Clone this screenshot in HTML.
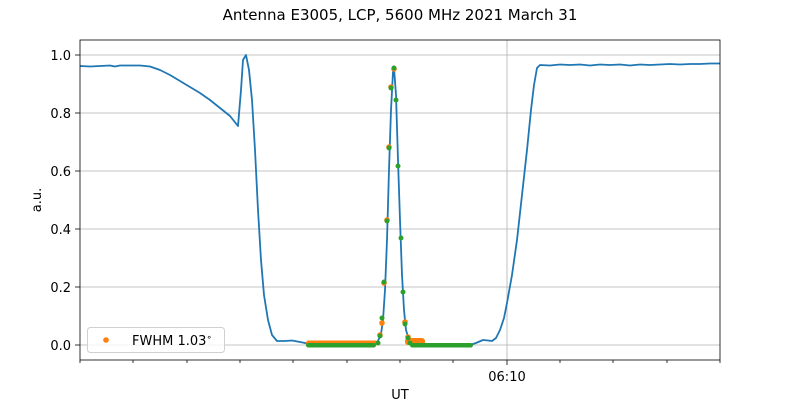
<!DOCTYPE html>
<html><head><style>
body{margin:0;background:#fff;font-family:"Liberation Sans","DejaVu Sans",sans-serif;}
</style></head><body>
<svg width="800" height="400" viewBox="0 0 800 400" xmlns="http://www.w3.org/2000/svg" font-family="DejaVu Sans, Liberation Sans, sans-serif">
<text x="400" y="20" font-size="15" text-anchor="middle">Antenna E3005, LCP, 5600 MHz 2021 March 31</text>
<g stroke="#b0b0b0" stroke-width="0.8">
<line x1="80" x2="720" y1="55" y2="55"/><line x1="80" x2="720" y1="113" y2="113"/><line x1="80" x2="720" y1="171" y2="171"/><line x1="80" x2="720" y1="229" y2="229"/><line x1="80" x2="720" y1="287" y2="287"/><line x1="80" x2="720" y1="345" y2="345"/>
<line x1="507" x2="507" y1="40" y2="360"/>
</g>
<g font-size="13" text-anchor="end">
<text x="71" y="60">1.0</text><text x="71" y="118">0.8</text><text x="71" y="176">0.6</text><text x="71" y="234">0.4</text><text x="71" y="292">0.2</text><text x="71" y="350">0.0</text>
</g>
<g stroke="#000" stroke-width="0.8">
<line x1="75" x2="80" y1="55" y2="55"/><line x1="75" x2="80" y1="113" y2="113"/><line x1="75" x2="80" y1="171" y2="171"/><line x1="75" x2="80" y1="229" y2="229"/><line x1="75" x2="80" y1="287" y2="287"/><line x1="75" x2="80" y1="345" y2="345"/>
<line x1="80" x2="80" y1="360" y2="363"/><line x1="133" x2="133" y1="360" y2="363"/><line x1="187" x2="187" y1="360" y2="363"/><line x1="240" x2="240" y1="360" y2="363"/><line x1="293" x2="293" y1="360" y2="363"/><line x1="347" x2="347" y1="360" y2="363"/><line x1="400" x2="400" y1="360" y2="363"/><line x1="453" x2="453" y1="360" y2="363"/><line x1="507" x2="507" y1="360" y2="365"/><line x1="560" x2="560" y1="360" y2="363"/><line x1="613" x2="613" y1="360" y2="363"/><line x1="667" x2="667" y1="360" y2="363"/><line x1="720" x2="720" y1="360" y2="363"/>
</g>
<text x="507" y="381" font-size="13" text-anchor="middle">06:10</text>
<text x="400" y="399" font-size="13" text-anchor="middle">UT</text>
<text x="41" y="200" font-size="13" text-anchor="middle" transform="rotate(-90 41 200)">a.u.</text>
<polyline fill="none" stroke="#1f77b4" stroke-width="1.8" stroke-linejoin="round" points="80,66 90,66.5 100,66 110,65.5 115,66.5 120,65.5 130,65.5 140,65.5 150,66.5 160,70 170,75 180,81 190,87 200,93 210,100 220,108 230,116 238,126 241,90 243,60 246,55 249,70 252,100 255,150 258,210 261,260 264,295 268,320 272,335 277,341 285,341 292,340.5 300,342 305,343 310,344.5 320,345 340,345 360,345 374,344.5 378,341 381,334 383,320 385,290 387,240 389,170 391,110 393,72 394,68 396,95 398,160 400,220 402,275 404,310 406,330 409,340 413,344.5 420,345 440,345 470,345 476,343 483,340 488,340.5 492,341 496,338 500,330 504,318 507,303 512,275 517,240 522,195 527,150 531,110 534,85 537,68 540,65 550,65.5 560,64.5 570,65 580,64.5 590,65.5 600,64.5 610,65 620,64.5 630,65.5 640,64.5 650,65 660,64.5 670,64 680,64.5 690,64 700,64 710,63.5 720,63.5"/>
<g fill="#ff7f0e">
<rect x="306" y="340.5" width="72" height="5" rx="2.5"/>
<rect x="405" y="338" width="20" height="7" rx="3"/>
<circle cx="380" cy="335" r="2.8"/><circle cx="382" cy="323" r="2.8"/><circle cx="384" cy="283" r="2.8"/><circle cx="387" cy="220" r="2.8"/><circle cx="389" cy="147" r="2.8"/><circle cx="391" cy="87" r="2.8"/><circle cx="394" cy="69" r="2.8"/><circle cx="405" cy="322" r="2.8"/><circle cx="408" cy="337" r="2.8"/>
</g>
<g fill="#2ca02c">
<rect x="306" y="343" width="70" height="4.5" rx="2.2"/>
<rect x="410" y="343" width="63" height="4.5" rx="2.2"/>
<circle cx="378" cy="343" r="2.5"/><circle cx="380" cy="336" r="2.5"/><circle cx="382" cy="318" r="2.5"/><circle cx="384" cy="282" r="2.5"/><circle cx="387" cy="221" r="2.5"/><circle cx="389" cy="148" r="2.5"/><circle cx="391" cy="88" r="2.5"/><circle cx="394" cy="68" r="2.5"/><circle cx="396" cy="100" r="2.5"/><circle cx="398" cy="166" r="2.5"/><circle cx="401" cy="238" r="2.5"/><circle cx="403" cy="292" r="2.5"/><circle cx="405" cy="324" r="2.5"/><circle cx="408" cy="338" r="2.5"/><circle cx="410" cy="343" r="2.5"/>
</g>
<rect x="80" y="40" width="640" height="320" fill="none" stroke="#000" stroke-width="0.8"/>
<rect x="87.5" y="327.5" width="137" height="25" rx="3" fill="#fff" fill-opacity="0.8" stroke="#d0d0d0"/>
<circle cx="106" cy="340" r="2.8" fill="#ff7f0e"/>
<text x="132" y="345" font-size="13">FWHM 1.03<tspan font-size="9" dy="-5">∘</tspan></text>
</svg>
</body></html>
